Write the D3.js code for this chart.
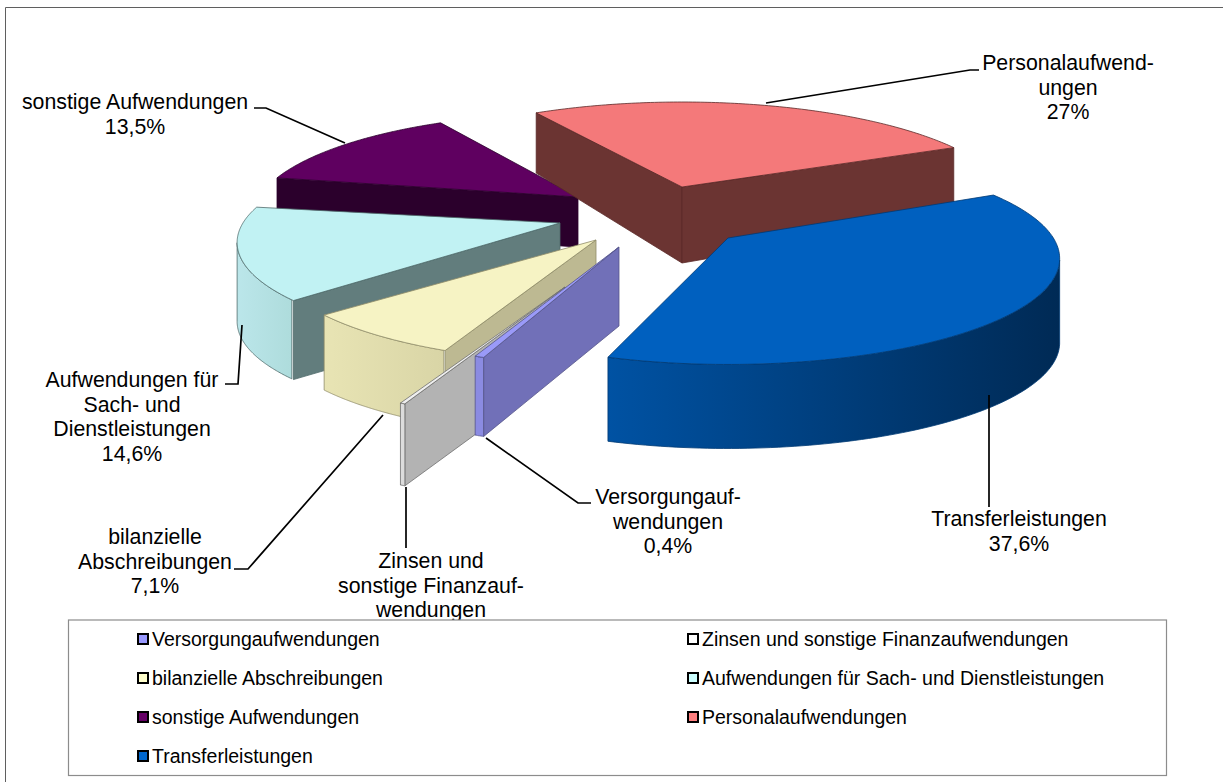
<!DOCTYPE html>
<html lang="de">
<head>
<meta charset="utf-8">
<title>Aufwendungen</title>
<script src="https://cdn.jsdelivr.net/npm/d3@7/dist/d3.min.js"></script>
<style>
  html, body { margin: 0; padding: 0; background: #fff; }
  svg { display: block; }
  text { font-family: "Liberation Sans", Arial, sans-serif; fill: #000; }
</style>
</head>
<body>
<svg id="chart" width="1223" height="782"></svg>
<script>
// Expense categories, clockwise from the lower left of the pie
const categories = [
  "Versorgungaufwendungen",
  "Zinsen und sonstige Finanzaufwendungen",
  "bilanzielle Abschreibungen",
  "Aufwendungen für Sach- und Dienstleistungen",
  "sonstige Aufwendungen",
  "Personalaufwendungen",
  "Transferleistungen"
];
const shares = [0.4, 0.2, 7.1, 14.6, 13.5, 27, 37.6];
const labelLines = [
  ["Versorgungauf-", "wendungen"],
  ["Zinsen und", "sonstige Finanzauf-", "wendungen"],
  ["bilanzielle", "Abschreibungen"],
  ["Aufwendungen für", "Sach- und", "Dienstleistungen"],
  ["sonstige Aufwendungen"],
  ["Personalaufwend-", "ungen"],
  ["Transferleistungen"]
];
const showShare = [true, false, true, true, true, true, true];

// Colours of each wedge: lid, radial wall, curved wall (two gradient stops), legend key
const palette = [
  { top: "#9a9af8", wall: "#7170b8", rim: ["#8b8be2", "#8585d8"], key: "#9999ff", line: "#55558a" },
  { top: "#efefef", wall: "#b3b3b3", rim: ["#dcdcdc", "#cfcfcf"], key: "#ffffff", line: "#707070" },
  { top: "#f6f3c4", wall: "#bdb992", rim: ["#e8e4b4", "#d9d5a6"], key: "#ffffcc", line: "#8f8c68" },
  { top: "#c1f2f3", wall: "#627d7d", rim: ["#bbe6ea", "#aedcdc"], key: "#ccffff", line: "#4f6b6b" },
  { top: "#5f0060", wall: "#2b002c", rim: ["#3a003a", "#2b002c"], key: "#660066", line: "#2b002c" },
  { top: "#f4797a", wall: "#6b3432", rim: ["#7a3b3a", "#6b3432"], key: "#ff8080", line: "#5a2a28" },
  { top: "#0060bf", wall: "#003a74", rim: ["#0052a3", "#002a55"], key: "#0066cc", line: "#003a74" }
];

// Exploded pie geometry: hub of each wedge, radius factor, wall height, height falloff, small turn
const wedgeLayout = [
  { hub: [619, 247], r: 0.94,  h: 79, fall: 0,    turn: 2 },
  { hub: [565, 287], r: 1.00,  h: 82, fall: 0,    turn: 2.8 },
  { hub: [596, 240], r: 0.955, h: 75, fall: 0,    turn: 2 },
  { hub: [560, 223], r: 0.955, h: 79, fall: 0,    turn: 0.5 },
  { hub: [578, 197], r: 0.96,  h: 50, fall: 0,    turn: 2.5 },
  { hub: [682, 187], r: 0.975, h: 76, fall: 0.25, turn: 1 },
  { hub: [728, 238], r: 0.98,  h: 84, fall: 0,    turn: -1.5 }
];
const paintOrder = [4, 5, 3, 2, 6, 1, 0];

// Ellipse radii and the foreshortening of the tilted disc
const radiusX = 332, radiusY = 104, tilt = 0.198;
const toRad = d3.scaleLinear().domain([0, 180]).range([0, Math.PI]);

const svg = d3.select("#chart");
const defs = svg.append("defs");
const pathOf = d3.line();

const wedges = d3.pie().sort(null)
  .startAngle(toRad(-161)).endAngle(toRad(199))
  .value(d => d)(shares);

function project(layout, angle) {
  const u = Math.sin(angle) * layout.r;
  const v = -Math.cos(angle) * layout.r;
  const p = 1 / (1 - tilt * v);
  return {
    x: layout.hub[0] + radiusX * u * p,
    y: layout.hub[1] + radiusY * v * p,
    h: layout.h * (1 + layout.fall * v)
  };
}
const lid = pt => [pt.x, pt.y];
const foot = pt => [pt.x, pt.y + pt.h];

// Frame along the top and left of the figure
svg.append("path").attr("d", "M5.5,782V7.5H1223")
  .attr("fill", "none").attr("stroke", "#5f5f5f").attr("stroke-width", 1);

// Wedges, back to front
paintOrder.forEach(i => {
  const w = wedges[i], layout = wedgeLayout[i], colour = palette[i];
  const turn = toRad(layout.turn);
  const a0 = w.startAngle + turn, a1 = w.endAngle + turn;
  const steps = d3.range(0, 121).map(k => a0 + (a1 - a0) * k / 120);
  const arcPts = steps.map(a => project(layout, a));
  const hub = { x: layout.hub[0], y: layout.hub[1], h: layout.h };
  const g = svg.append("g").attr("class", "wedge");

  const wall = (pts, fill) => g.append("path")
    .attr("d", pathOf(pts) + "Z")
    .attr("fill", fill).attr("stroke", colour.line)
    .attr("stroke-width", 0.8).attr("stroke-linejoin", "round");

  // Radial wall on the leading edge
  const first = arcPts[0], last = arcPts[arcPts.length - 1];
  if (first.x < hub.x) wall([lid(hub), lid(first), foot(first), foot(hub)], colour.wall);
  if (last.x > hub.x) wall([lid(hub), lid(last), foot(last), foot(hub)], colour.wall);

  // Curved outer wall: only the stretch that runs right-to-left faces the viewer
  const facing = arcPts.filter((pt, k) => k > 0 && pt.x < arcPts[k - 1].x);
  if (facing.length > 1 && i > 1) {
    const id = "rim" + i;
    const grad = defs.append("linearGradient").attr("id", id);
    grad.append("stop").attr("offset", "0").attr("stop-color", colour.rim[0]);
    grad.append("stop").attr("offset", "1").attr("stop-color", colour.rim[1]);
    wall(facing.map(lid).concat(facing.slice().reverse().map(foot)), `url(#${id})`);
  } else if (facing.length > 1) {
    wall(facing.map(lid).concat(facing.slice().reverse().map(foot)), colour.rim[0]);
  }

  // Lid of the wedge
  g.append("path")
    .attr("d", pathOf([lid(hub)].concat(arcPts.map(lid))) + "Z")
    .attr("fill", colour.top).attr("stroke", colour.line)
    .attr("stroke-width", 0.8).attr("stroke-linejoin", "round");
});

// Leader lines from the labels to the wedges
const leaders = [
  [[486, 438], [578, 503], [591, 503]],
  [[406, 487], [406, 548]],
  [[383, 415], [248, 569], [234, 569]],
  [[242, 325], [238, 384], [225, 384]],
  [[345, 143], [266, 108], [254, 108]],
  [[766, 103], [970, 70], [979, 70]],
  [[989, 395], [989, 507]]
];
svg.append("g").selectAll("path").data(leaders).join("path")
  .attr("d", d => pathOf(d)).attr("fill", "none")
  .attr("stroke", "#000").attr("stroke-width", 1.7);

// Data labels with the share underneath
const labelAnchor = [[668, 504], [431, 568], [155, 544], [132, 387], [135, 109], [1068, 70], [1019, 526]];
const decimal = d3.format(".1f");
const shareText = v => (Number.isInteger(v) ? String(v) : decimal(v).replace(".", ",")) + "%";
labelLines.forEach((lines, i) => {
  const rows = showShare[i] ? lines.concat(shareText(shares[i])) : lines;
  const t = svg.append("text").attr("text-anchor", "middle").attr("font-size", 21.3);
  rows.forEach((row, k) => t.append("tspan")
    .attr("x", labelAnchor[i][0]).attr("y", labelAnchor[i][1] + k * 24.5).text(row));
});

// Legend box, two columns filled row by row; its white ground trims the label above it
svg.append("rect").attr("x", 68.5).attr("y", 620).attr("width", 1098).attr("height", 155.5)
  .attr("fill", "#fff").attr("stroke", "#8c8c8c").attr("stroke-width", 1.2);
const legendCol = d3.scaleOrdinal().domain([0, 1]).range([138, 688]);
const legendRow = d3.scalePoint().domain([0, 1, 2, 3]).range([639, 756]);
const entry = svg.append("g").selectAll("g").data(categories).join("g")
  .attr("transform", (d, i) => `translate(${legendCol(i % 2)},${legendRow(Math.floor(i / 2))})`);
entry.append("rect").attr("x", 0).attr("y", -5).attr("width", 10).attr("height", 10)
  .attr("fill", (d, i) => palette[i].key).attr("stroke", "#000").attr("stroke-width", 2);
entry.append("text").attr("x", 14).attr("y", 7).attr("font-size", 19.5).text(d => d);
</script>
</body>
</html>
